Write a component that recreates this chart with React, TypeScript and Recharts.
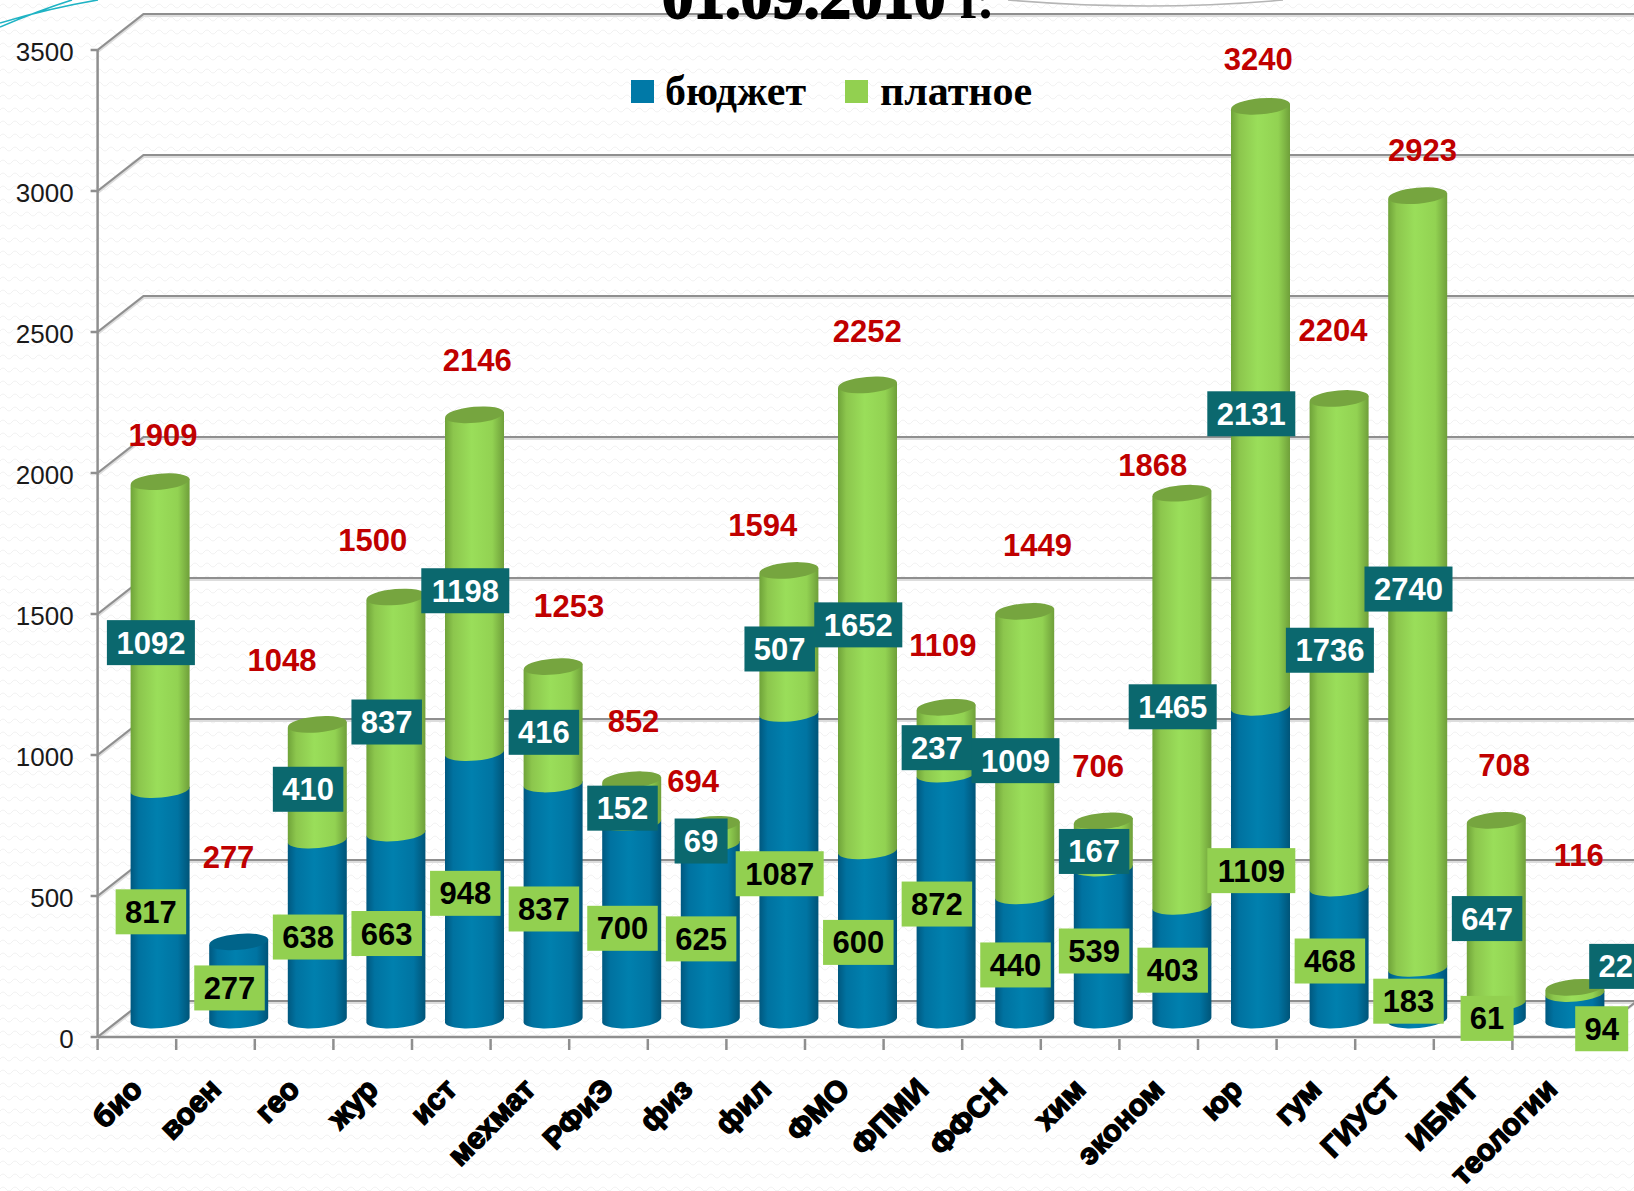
import { Bar, CartesianGrid, ComposedChart, LabelList, Legend, Line, XAxis, YAxis } from "recharts"

const categories = ["био", "воен", "гео", "жур", "ист", "мехмат", "РФиЭ", "физ", "фил", "ФМО", "ФПМИ", "ФФСН", "хим", "эконом", "юр", "гум", "ГИУСТ", "ИБМТ", "теологии"]
const budget = [817, 277, 638, 663, 948, 837, 700, 625, 1087, 600, 872, 440, 539, 403, 1109, 468, 183, 61, 94]
const paid = [1092, 0, 410, 837, 1198, 416, 152, 69, 507, 1652, 237, 1009, 167, 1465, 2131, 1736, 2740, 647, 22]
const totals = [1909, 277, 1048, 1500, 2146, 1253, 852, 694, 1594, 2252, 1109, 1449, 706, 1868, 3240, 2204, 2923, 708, 116]
const yTicks = [0, 500, 1000, 1500, 2000, 2500, 3000, 3500]

const data = categories.map((name, i) => ({
  name,
  budget: budget[i],
  paid: paid[i],
  total: totals[i],
  budgetMid: budget[i] / 2,
  paidMid: budget[i] + paid[i] / 2,
}))

// the red totals were placed by hand on the slide, so each one has its own offset
const totalOffsets = [[26, -64], [13, -102], [-12, -81], [0, -74], [26, -72], [39, -78], [25, -76], [6, -60], [-3, -62], [23, -71], [20, -79], [36, -83], [18, -72], [-6, -45], [21, -64], [17, -85], [28, -63], [31, -72], [27, -149]]

const BLUE = "#0079a7"
const GREEN = "#92d050"
const TEAL = "#0b686e"
const GRID = "#8f8f8f"

// 3d look: bars sit further back than the axis
const DEPTH_X = 23
const DEPTH_Y = -17
const RY = 8
const TILT = 2.8

const waves = `<svg xmlns='http://www.w3.org/2000/svg' width='12' height='13'><path d='M0 6 Q3 2 6 6 T12 6' fill='none' stroke='#f1f1f1' stroke-width='1'/></svg>`

const Cylinder = (props: any) => {
  const { x, y, width, height, fill, top, isTop } = props
  if (!height || height <= 0) return null
  const left = x + DEPTH_X
  const right = left + width
  const y1 = y + DEPTH_Y
  const y2 = y1 + height
  const rx = width / 2
  const body = `M${left} ${y1 + TILT} L${left} ${y2 + TILT} A${rx} ${RY} -5 0 0 ${right} ${y2 - TILT} L${right} ${y1 - TILT} Z`
  return (
    <g>
      <path d={body} fill={fill} />
      {isTop(props) && <ellipse cx={left + rx} cy={y1} rx={rx} ry={RY} fill={top} transform={`rotate(-5 ${left + rx} ${y1})`} />}
    </g>
  )
}

const BoxLabel = (props: any) => {
  const { x, y, value, index, fill, color, series } = props
  if (!value) return null
  let dx = 14
  let dy = -10
  // the last category's two boxes were dragged off the bar on the slide
  if (index === 18) {
    dx = series === "budget" ? 50 : 64
    dy = series === "budget" ? 5 : -41
  }
  const text = String(value)
  const w = text.length * 17.5 + 18
  return (
    <g>
      <rect x={x + dx - w / 2} y={y + dy - 22.5} width={w} height={45} fill={fill} />
      <text x={x + dx} y={y + dy + 11} textAnchor="middle" fontFamily="Liberation Sans" fontWeight="bold" fontSize={31} fill={color}>
        {text}
      </text>
    </g>
  )
}

const TotalLabel = (props: any) => {
  const { x, y, value, index } = props
  const [dx, dy] = totalOffsets[index]
  const text = String(value)
  return (
    <text x={x + dx} y={y + dy + 11} textAnchor="middle" fontFamily="Liberation Sans" fontWeight="bold" fontSize={31} fill="#c00000">
      {/* the slide has a bigger first digit on 1253 */}
      {index === 5 ? <tspan fontSize={34}>{text[0]}</tspan> : text[0]}
      {text.slice(1)}
    </text>
  )
}

const CategoryTick = (props: any) => {
  const { x, y, payload, index } = props
  const half = 39.3
  return (
    <g>
      {index === 0 && <line x1={x - half} y1={y} x2={x - half} y2={y + 11} stroke={GRID} strokeWidth={2.5} />}
      <line x1={x + half} y1={y} x2={x + half} y2={y + 11} stroke={GRID} strokeWidth={2.5} />
      <text
        x={x + 7}
        y={y + 52}
        textAnchor="end"
        transform={`rotate(-45 ${x + 7} ${y + 52})`}
        fontFamily="Liberation Sans"
        fontWeight="bold"
        fontSize={30}
        stroke="#000"
        strokeWidth={1.6}
        fill="#000"
      >
        {payload.value}
      </text>
    </g>
  )
}

const GridLine = (props: any) => {
  const { x1, x2, y1 } = props
  const backY = y1 - 36
  return (
    <g fill="none">
      <path d={`M${x1} ${y1} L${x1 + 46} ${backY} L${x2 + 46} ${backY}`} stroke="#dddddd" strokeWidth={4} transform="translate(0 1)" />
      <path d={`M${x1} ${y1} L${x1 + 46} ${backY} L${x2 + 46} ${backY}`} stroke={GRID} strokeWidth={2.2} />
      {y1 > 1000 && <path d={`M${x2} ${y1} L${x2 + 46} ${backY}`} stroke={GRID} strokeWidth={2.2} />}
    </g>
  )
}

const LegendContent = () => (
  <div style={{ display: "flex", alignItems: "center", fontFamily: "Liberation Serif", fontWeight: "bold", fontSize: 42, color: "#000", lineHeight: "46px" }}>
    <span style={{ width: 23, height: 23, background: BLUE, marginRight: 11 }} />
    <span style={{ width: 180 }}>бюджет</span>
    <span style={{ width: 23, height: 23, background: GREEN, marginRight: 12 }} />
    <span>платное</span>
  </div>
)

const App = () => {
  return (
    <div
      style={{
        position: "absolute",
        left: 0,
        top: 0,
        width: 1634,
        height: 1191,
        overflow: "hidden",
        background: `#fff url("data:image/svg+xml,${encodeURIComponent(waves)}")`,
      }}
    >
      <ComposedChart width={1634} height={1191} data={data} margin={{ top: 50, right: 43, bottom: 0, left: 0 }} barSize={59}>
        <defs>
          <linearGradient id="blueBody" x1="0" y1="0" x2="1" y2="0">
            <stop offset="0" stopColor="#00587f" />
            <stop offset="0.14" stopColor="#0072a0" />
            <stop offset="0.45" stopColor="#0080ae" />
            <stop offset="0.8" stopColor="#0074a2" />
            <stop offset="1" stopColor="#005478" />
          </linearGradient>
          <linearGradient id="greenBody" x1="0" y1="0" x2="1" y2="0">
            <stop offset="0" stopColor="#6fa339" />
            <stop offset="0.14" stopColor="#8cc64d" />
            <stop offset="0.45" stopColor="#9ade5a" />
            <stop offset="0.8" stopColor="#92d252" />
            <stop offset="1" stopColor="#6f9f3a" />
          </linearGradient>
        </defs>
        <CartesianGrid vertical={false} horizontal={(p: any) => <GridLine {...p} />} />
        <XAxis
          dataKey="name"
          height={108}
          interval={0}
          tickLine={false}
          tickSize={0}
          stroke={GRID}
          strokeWidth={2.5}
          tick={(p: any) => <CategoryTick {...p} />}
        />
        <YAxis
          width={97.6}
          domain={[0, 3500]}
          ticks={yTicks}
          tickSize={7}
          tickMargin={17}
          stroke={GRID}
          strokeWidth={2.5}
          tick={{ fontFamily: "Liberation Sans", fontSize: 26, fill: "#1a1a1a", stroke: "none", dy: 2 }}
        />
        <Legend layout="vertical" align="center" content={<LegendContent />} wrapperStyle={{ left: 631, top: 68, width: 430 }} />
        <Bar
          dataKey="budget"
          name="бюджет"
          stackId="a"
          fill={BLUE}
          isAnimationActive={false}
          shape={(p: any) => <Cylinder {...p} fill="url(#blueBody)" top="#00648a" isTop={(q: any) => !q.payload.paid} />}
        />
        <Bar
          dataKey="paid"
          name="платное"
          stackId="a"
          fill={GREEN}
          isAnimationActive={false}
          shape={(p: any) => <Cylinder {...p} fill="url(#greenBody)" top="#76a53f" isTop={() => true} />}
        />
        <Line dataKey="budgetMid" stroke="none" dot={false} activeDot={false} legendType="none" isAnimationActive={false}>
          <LabelList dataKey="budget" content={(p: any) => <BoxLabel {...p} series="budget" fill={GREEN} color="#000" />} />
        </Line>
        <Line dataKey="paidMid" stroke="none" dot={false} activeDot={false} legendType="none" isAnimationActive={false}>
          <LabelList dataKey="paid" content={(p: any) => <BoxLabel {...p} series="paid" fill={TEAL} color="#fff" />} />
        </Line>
        <Line dataKey="total" stroke="none" dot={false} activeDot={false} legendType="none" isAnimationActive={false}>
          <LabelList dataKey="total" content={(p: any) => <TotalLabel {...p} />} />
        </Line>
      </ComposedChart>
      <svg width={1634} height={60} style={{ position: "absolute", left: 0, top: 0 }}>
        <path d="M0 23 Q50 8 98 0 M0 27 Q40 10 72 0" fill="none" stroke="#1fb3c4" strokeWidth={1.6} />
        <path d="M1008 0 Q1150 12 1283 0" fill="none" stroke="#b5b5b5" strokeWidth={1.6} />
        <text x={662} y={18} fontFamily="Liberation Serif" fontWeight="bold" fontSize={63} stroke="#000" strokeWidth={2} fill="#000">
          01.09.2010
          <tspan fontSize={56} strokeWidth={0} dx={14}>г.</tspan>
        </text>
      </svg>
    </div>
  )
}

export default App
